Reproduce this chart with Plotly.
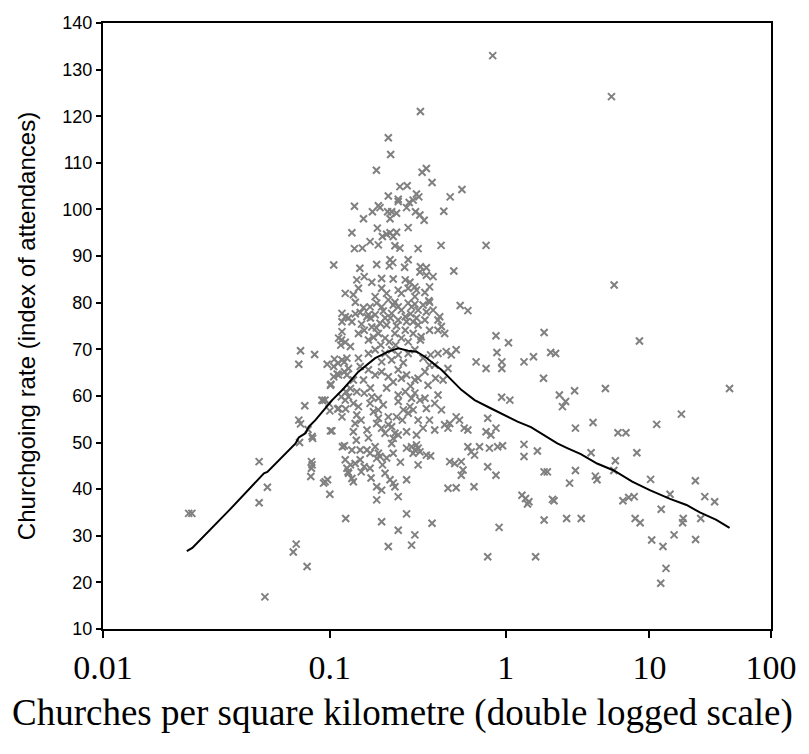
import numpy as np
import plotly.graph_objects as go

# Churches per square kilometre (x) and churchgoing rate (y) for each district
density = [
    0.0221, 0.0228, 0.0454, 0.0496, 0.0454, 0.0483, 0.0659, 0.0681, 0.0770, 0.0715,
    0.0701, 0.0839, 0.0750, 0.0715, 0.0778, 0.0707, 0.0820, 0.0809, 0.0809, 0.0803,
    0.0947, 0.0974, 0.1000, 0.1206, 0.1160, 0.1224, 0.1240, 0.1025, 0.1008, 0.1000,
    0.1097, 0.1206, 0.0921, 0.0989, 0.1013, 0.1047, 0.1090, 0.0970, 0.1056, 0.1101,
    0.1188, 0.1147, 0.1200, 0.1154, 0.1145, 0.1200, 0.1210, 0.1224, 0.828, 0.307,
    0.2033, 0.2094, 0.1752, 0.314, 0.332, 0.358, 0.2355, 0.2585, 0.457, 0.537,
    0.2033, 0.2305, 0.2305, 0.2916, 0.3007, 0.2793, 0.2653, 0.134, 0.1795, 0.1833,
    0.1668, 0.1495, 0.2016, 0.212, 0.2256, 0.2078, 0.2565, 0.288, 0.305, 0.3225,
    0.419, 0.1299, 0.1773, 0.1887, 0.199, 0.2078, 0.2163, 0.2256, 0.2619, 0.162,
    0.1795, 0.134, 0.1475, 0.221, 0.2355, 0.2979, 0.404, 0.753, 0.1047, 0.143,
    0.1758, 0.2078, 0.215, 0.206, 0.2619, 0.25, 0.48, 0.307, 0.332, 0.305,
    0.332, 0.363, 0.1378, 0.1508, 0.1655, 0.187, 0.2163, 0.2522, 0.268, 0.2619,
    0.2856, 0.3464, 0.1406, 0.1322, 0.12, 0.187, 0.199, 0.1725, 0.2305, 0.24,
    0.2916, 0.2856, 0.3258, 0.343, 0.524, 0.5826, 0.1154, 0.12, 0.1154, 0.1299,
    0.1436, 0.1588, 0.162, 0.1758, 0.187, 0.2033, 0.2163, 0.2305, 0.24, 0.2619,
    0.2736, 0.2979, 0.318, 0.3966, 0.3876, 0.4058, 0.3876, 0.424, 0.868, 1.776,
    0.1109, 0.1406, 0.1508, 0.1655, 0.1354, 0.221, 0.2856, 0.3464, 0.156, 0.1725,
    0.1833, 0.1952, 0.212, 0.2305, 0.2522, 0.2793, 0.2979, 0.3258, 0.1248, 0.1795,
    0.1952, 0.221, 0.2522, 0.2793, 0.31, 0.3464, 0.1588, 0.1138, 0.1276, 1.041,
    0.1047, 0.1154, 0.1224, 0.1008, 0.1109, 0.1188, 0.1248, 0.1406, 0.1588, 0.1725,
    0.1952, 0.212, 0.2305, 0.2619, 0.2856, 0.318, 0.351, 0.3876, 0.433, 0.464,
    0.496, 0.1436, 0.1588, 0.1725, 0.187, 0.2033, 0.2305, 0.2565, 0.2856, 0.3258,
    0.371, 0.4434, 0.654, 0.753, 0.88, 0.945, 0.945, 1.31, 1.51, 1.76,
    0.0701, 0.0912, 0.0946, 0.1109, 0.1154, 0.1276, 0.1248, 0.1378, 0.1322, 0.1406,
    0.1378, 0.135, 0.1322, 0.1508, 0.1655, 0.162, 0.1795, 0.1795, 0.1795, 0.1758,
    0.2033, 0.187, 0.1952, 0.212, 0.2256, 0.2305, 0.2305, 0.2522, 0.2736, 0.268,
    0.2856, 0.305, 0.3258, 0.2793, 0.2619, 0.332, 0.371, 0.3876, 0.4058, 0.4434,
    0.424, 0.454, 0.496, 0.519, 0.554, 0.5826, 0.5826, 0.7711, 0.753, 0.942,
    1.062, 0.868, 0.807, 1.31, 1.603, 1.776, 0.0815, 0.0815, 0.1188, 0.1299,
    0.1436, 0.156, 0.162, 0.12, 0.1248, 0.1299, 0.1322, 0.1276, 0.135, 0.1436,
    0.1508, 0.1454, 0.162, 0.1725, 0.1795, 0.1758, 0.1833, 0.1952, 0.2078, 0.2163,
    0.221, 0.1758, 0.187, 0.2565, 0.2736, 0.2856, 0.2916, 0.2979, 0.2793, 0.305,
    0.332, 0.351, 0.2163, 0.221, 0.2305, 0.212, 0.2163, 0.2565, 0.454, 0.486,
    0.532, 0.545, 0.532, 0.61, 0.686, 0.64, 0.7711, 0.868, 0.8893, 0.955,
    0.79, 0.4434, 0.496, 0.635, 1.31, 0.093, 0.1758, 0.2305, 0.2565, 0.187,
    0.2305, 0.2856, 0.2736, 0.2033, 0.358, 0.908, 1.27, 1.34, 1.41, 1.38,
    1.776, 0.7711, 1.56, 8.4, 1.965, 2.12, 43.8, 2.25, 2.48, 2.36,
    2.86, 4.72, 17.7, 11.36, 2.9, 3.85, 5.82, 6.66, 3.73, 8.03,
    5.57, 5.43, 2.9, 4.0, 4.11, 2.64, 10.2, 22.9, 2.02, 2.07,
    6.33, 6.98, 7.67, 14.4, 27.3, 32.9, 12.3, 2.52, 3.18, 7.8,
    8.5, 18.3, 18.1, 25.3, 10.4, 12.7, 15.5, 23.0, 13.4, 12.2,
    5.22, 5.46, 1.867,
    # dense core
    0.1495, 0.1627, 0.1752, 0.1908, 0.199, 0.209, 0.2256, 0.24, 0.2565, 0.27,
    0.2916, 0.307, 0.332, 0.363, 0.206, 0.185, 0.223, 0.2619, 0.169, 0.146,
    0.1354, 0.1495, 0.1627, 0.199, 0.2163, 0.24, 0.27, 0.2979, 0.3396, 0.375,
    0.346, 0.415, 0.1322, 0.212, 0.246, 0.187, 0.145, 0.156, 0.169, 0.1908,
    0.2033, 0.243, 0.246, 0.2979, 0.318, 0.346, 0.371, 0.2916, 0.1588, 0.137,
    0.199, 0.237, 0.2979, 0.2565, 0.164, 0.189,
]
rate = [
    34.8, 34.8, 45.9, 40.4, 37.1, 16.9, 26.5, 28.2, 23.4, 69.7,
    66.8, 68.9, 57.9, 54.0, 52.8, 50.0, 50.9, 45.9, 44.5, 42.7,
    41.6, 42.0, 38.9, 33.7, 49.1, 44.5, 43.7, 52.5, 52.5, 56.8,
    57.2, 57.2, 59.0, 58.4, 62.5, 64.1, 64.7, 66.8, 67.9, 67.0,
    67.3, 72.0, 71.5, 73.8, 59.8, 59.1, 60.9, 64.5, 133.0, 121.0,
    115.4, 111.8, 108.4, 108.0, 108.8, 105.8, 104.9, 105.1, 102.7, 104.3,
    102.9, 102.2, 101.7, 103.3, 102.7, 102.0, 101.5, 100.7, 100.8, 100.4,
    99.5, 98.0, 99.5, 99.5, 99.2, 98.0, 100.4, 99.5, 98.8, 97.7,
    99.6, 95.0, 96.0, 94.2, 94.7, 95.0, 94.2, 95.1, 96.1, 93.1,
    92.4, 91.6, 91.7, 92.2, 91.7, 91.6, 92.3, 92.3, 88.1, 87.4,
    88.2, 89.2, 88.6, 87.9, 89.2, 87.6, 86.8, 87.7, 87.5, 86.6,
    85.9, 85.6, 84.9, 85.6, 84.4, 85.2, 85.1, 84.9, 84.4, 83.1,
    83.4, 83.4, 83.1, 81.7, 82.0, 83.1, 82.0, 81.3, 82.7, 82.0,
    82.7, 81.3, 82.2, 80.4, 79.4, 78.3, 77.7, 77.0, 75.9, 75.9,
    77.9, 77.4, 79.1, 79.9, 79.1, 80.6, 79.5, 79.1, 78.4, 79.9,
    79.1, 78.4, 79.5, 77.0, 76.3, 74.9, 74.1, 73.4, 72.9, 73.6,
    72.4, 73.4, 74.1, 74.8, 80.1, 80.1, 79.7, 80.1, 77.0, 77.4,
    75.6, 76.7, 77.7, 76.3, 77.0, 75.9, 75.2, 76.3, 76.7, 73.4,
    72.4, 73.4, 74.1, 73.4, 72.7, 74.1, 72.0, 70.9, 70.6, 71.4,
    66.3, 67.7, 68.1, 62.3, 64.5, 65.2, 65.9, 68.1, 69.1, 69.9,
    69.1, 69.9, 68.8, 69.1, 69.9, 68.1, 68.8, 69.1, 69.5, 68.8,
    69.9, 66.3, 65.6, 64.5, 65.2, 64.1, 65.6, 64.5, 63.4, 65.2,
    66.6, 65.9, 67.3, 65.9, 69.3, 67.3, 65.9, 67.3, 68.4, 63.8,
    54.8, 59.1, 59.1, 57.3, 55.5, 61.6, 59.8, 60.9, 58.4, 57.7,
    55.9, 54.1, 52.3, 60.6, 59.8, 58.4, 59.5, 57.0, 55.2, 54.1,
    55.5, 53.1, 52.0, 53.4, 55.5, 58.8, 60.2, 60.9, 59.5, 57.7,
    60.6, 59.1, 59.5, 57.0, 56.3, 57.3, 58.4, 60.2, 57.0, 53.1,
    53.8, 54.1, 55.5, 54.8, 53.1, 52.7, 49.1, 55.2, 52.3, 59.7,
    59.1, 53.1, 51.6, 49.6, 48.2, 43.7, 51.3, 45.2, 49.3, 48.4,
    48.4, 48.4, 47.7, 46.3, 43.4, 42.3, 41.6, 45.2, 45.5, 46.3,
    44.8, 43.7, 44.5, 49.1, 47.7, 46.6, 47.0, 43.4, 42.0, 41.3,
    40.5, 40.5, 39.8, 42.0, 49.1, 48.4, 49.5, 48.8, 47.7, 48.0,
    47.3, 47.1, 50.9, 52.0, 51.6, 49.8, 47.7, 52.3, 45.9, 45.5,
    45.9, 44.1, 43.0, 48.0, 49.1, 47.3, 44.8, 43.0, 49.1, 49.3,
    48.8, 40.2, 40.3, 40.5, 47.0, 41.3, 37.7, 38.4, 34.7, 33.0,
    31.2, 30.2, 28.0, 27.7, 32.7, 31.8, 38.7, 38.0, 37.3, 36.8,
    33.4, 25.5, 25.5, 71.8, 69.3, 69.1, 61.6, 60.2, 58.8, 57.7,
    61.1, 61.6, 56.1, 53.9, 53.1, 54.3, 52.1, 52.1, 47.8, 47.8,
    46.1, 44.0, 44.0, 42.8, 42.0, 41.3, 42.1, 41.8, 37.8, 37.5,
    37.5, 38.2, 38.4, 38.9, 38.4, 37.3, 35.7, 33.7, 33.7, 33.7,
    32.8, 33.7, 32.8, 33.7, 29.1, 27.7, 30.2, 29.2, 23.0, 19.8,
    124.2, 83.8, 43.7,
    # dense core
    78.9, 76.7, 74.6, 78.2, 75.2, 76.7, 75.0, 72.4, 75.9, 77.6,
    76.7, 72.0, 78.0, 78.4, 71.6, 70.9, 70.9, 71.6, 72.6, 75.4,
    77.6, 63.4, 61.7, 61.7, 63.0, 63.8, 62.1, 63.8, 62.3, 63.8,
    66.6, 63.4, 63.4, 67.7, 67.1, 67.3, 54.8, 52.7, 56.6, 58.1,
    53.8, 54.8, 57.0, 54.8, 53.1, 54.8, 52.7, 51.6, 51.0, 50.5,
    46.7, 45.8, 45.2, 48.8, 42.4, 45.2,
]

# Smoothed trend line
fit_density = [0.0217, 0.0229, 0.0332, 0.0478, 0.0496, 0.0676, 0.0701, 0.0756, 0.0785,
               0.0846, 0.1028, 0.1178, 0.1406, 0.1725, 0.2033, 0.2305, 0.2619, 0.2918,
               0.3258, 0.4058, 0.5323, 0.6407, 0.8101, 0.9706, 1.19, 1.454, 1.867,
               2.178, 2.546, 3.16, 4.113, 5.43, 7.42, 10.05, 14.4, 19.45, 24.9,
               33.98, 43.8]
fit_rate = [26.7, 27.4, 35.5, 43.4, 43.7, 49.8, 51.1, 52.0, 53.4, 54.8, 59.1, 61.6,
            65.2, 68.1, 69.5, 70.2, 69.7, 69.5, 68.4, 65.6, 61.3, 59.1, 57.3, 55.9,
            54.5, 53.3, 51.1, 49.8, 48.8, 47.5, 45.5, 44.0, 41.6, 39.8, 37.9, 36.6,
            35.0, 33.4, 31.7]

x_ticks = [0.01, 0.1, 1, 10, 100]
x_tick_labels = ["0.01", "0.1", "1", "10", "100"]
y_ticks = list(range(10, 141, 10))
x_title = "Churches per square kilometre (double logged scale)"
y_title = "Churchgoing rate (index of attendances)"


def double_log(v):
    """Double-logged scale: ln(log10(v) + 5)."""
    return np.log(np.log10(np.asarray(v, dtype=float)) + 5)


W, H = 809, 754
M = dict(l=103, r=34, t=23, b=125)
plot_w = W - M["l"] - M["r"]

fig = go.Figure()
fig.add_trace(go.Scatter(
    x=double_log(density), y=rate, mode="markers",
    marker=dict(symbol="x-thin", size=7, color="#808080",
                line=dict(color="#808080", width=2)),
    customdata=density,
    hovertemplate="%{customdata} churches/km²<br>rate %{y}<extra></extra>",
    showlegend=False,
))
fig.add_trace(go.Scatter(
    x=double_log(fit_density), y=fit_rate, mode="lines",
    line=dict(color="black", width=2),
    showlegend=False, hoverinfo="skip",
))

# x-axis title centred on the whole image (as in the reference)
fig.add_annotation(
    text=x_title, showarrow=False,
    xref="paper", yref="paper",
    x=(W / 2 - M["l"]) / plot_w, y=0,
    xanchor="center", yanchor="middle", yshift=-84,
    font=dict(family="Liberation Serif, Times New Roman, serif", size=37, color="black"),
)

fig.update_layout(
    width=W, height=H,
    margin=M,
    paper_bgcolor="white", plot_bgcolor="white",
    xaxis=dict(
        range=[float(double_log(0.01)), float(double_log(100))],
        tickvals=[float(v) for v in double_log(x_ticks)],
        ticktext=x_tick_labels,
        ticks="outside", ticklen=7, tickwidth=2, tickcolor="black",
        showline=True, linewidth=2, linecolor="black", mirror=True,
        showgrid=False, zeroline=False,
        tickfont=dict(family="Liberation Serif, Times New Roman, serif", size=34, color="black"),
    ),
    yaxis=dict(
        range=[10, 140],
        tickvals=y_ticks,
        ticks="outside", ticklen=5, tickwidth=1.5, tickcolor="black",
        showline=True, linewidth=2, linecolor="black", mirror=True,
        showgrid=False, zeroline=False,
        tickfont=dict(family="Liberation Sans, Arial, sans-serif", size=18, color="black"),
        title=dict(text=y_title,
                   font=dict(family="Liberation Sans, Arial, sans-serif", size=24, color="black"),
                   standoff=20),
    ),
)

fig.write_html("out.html")
